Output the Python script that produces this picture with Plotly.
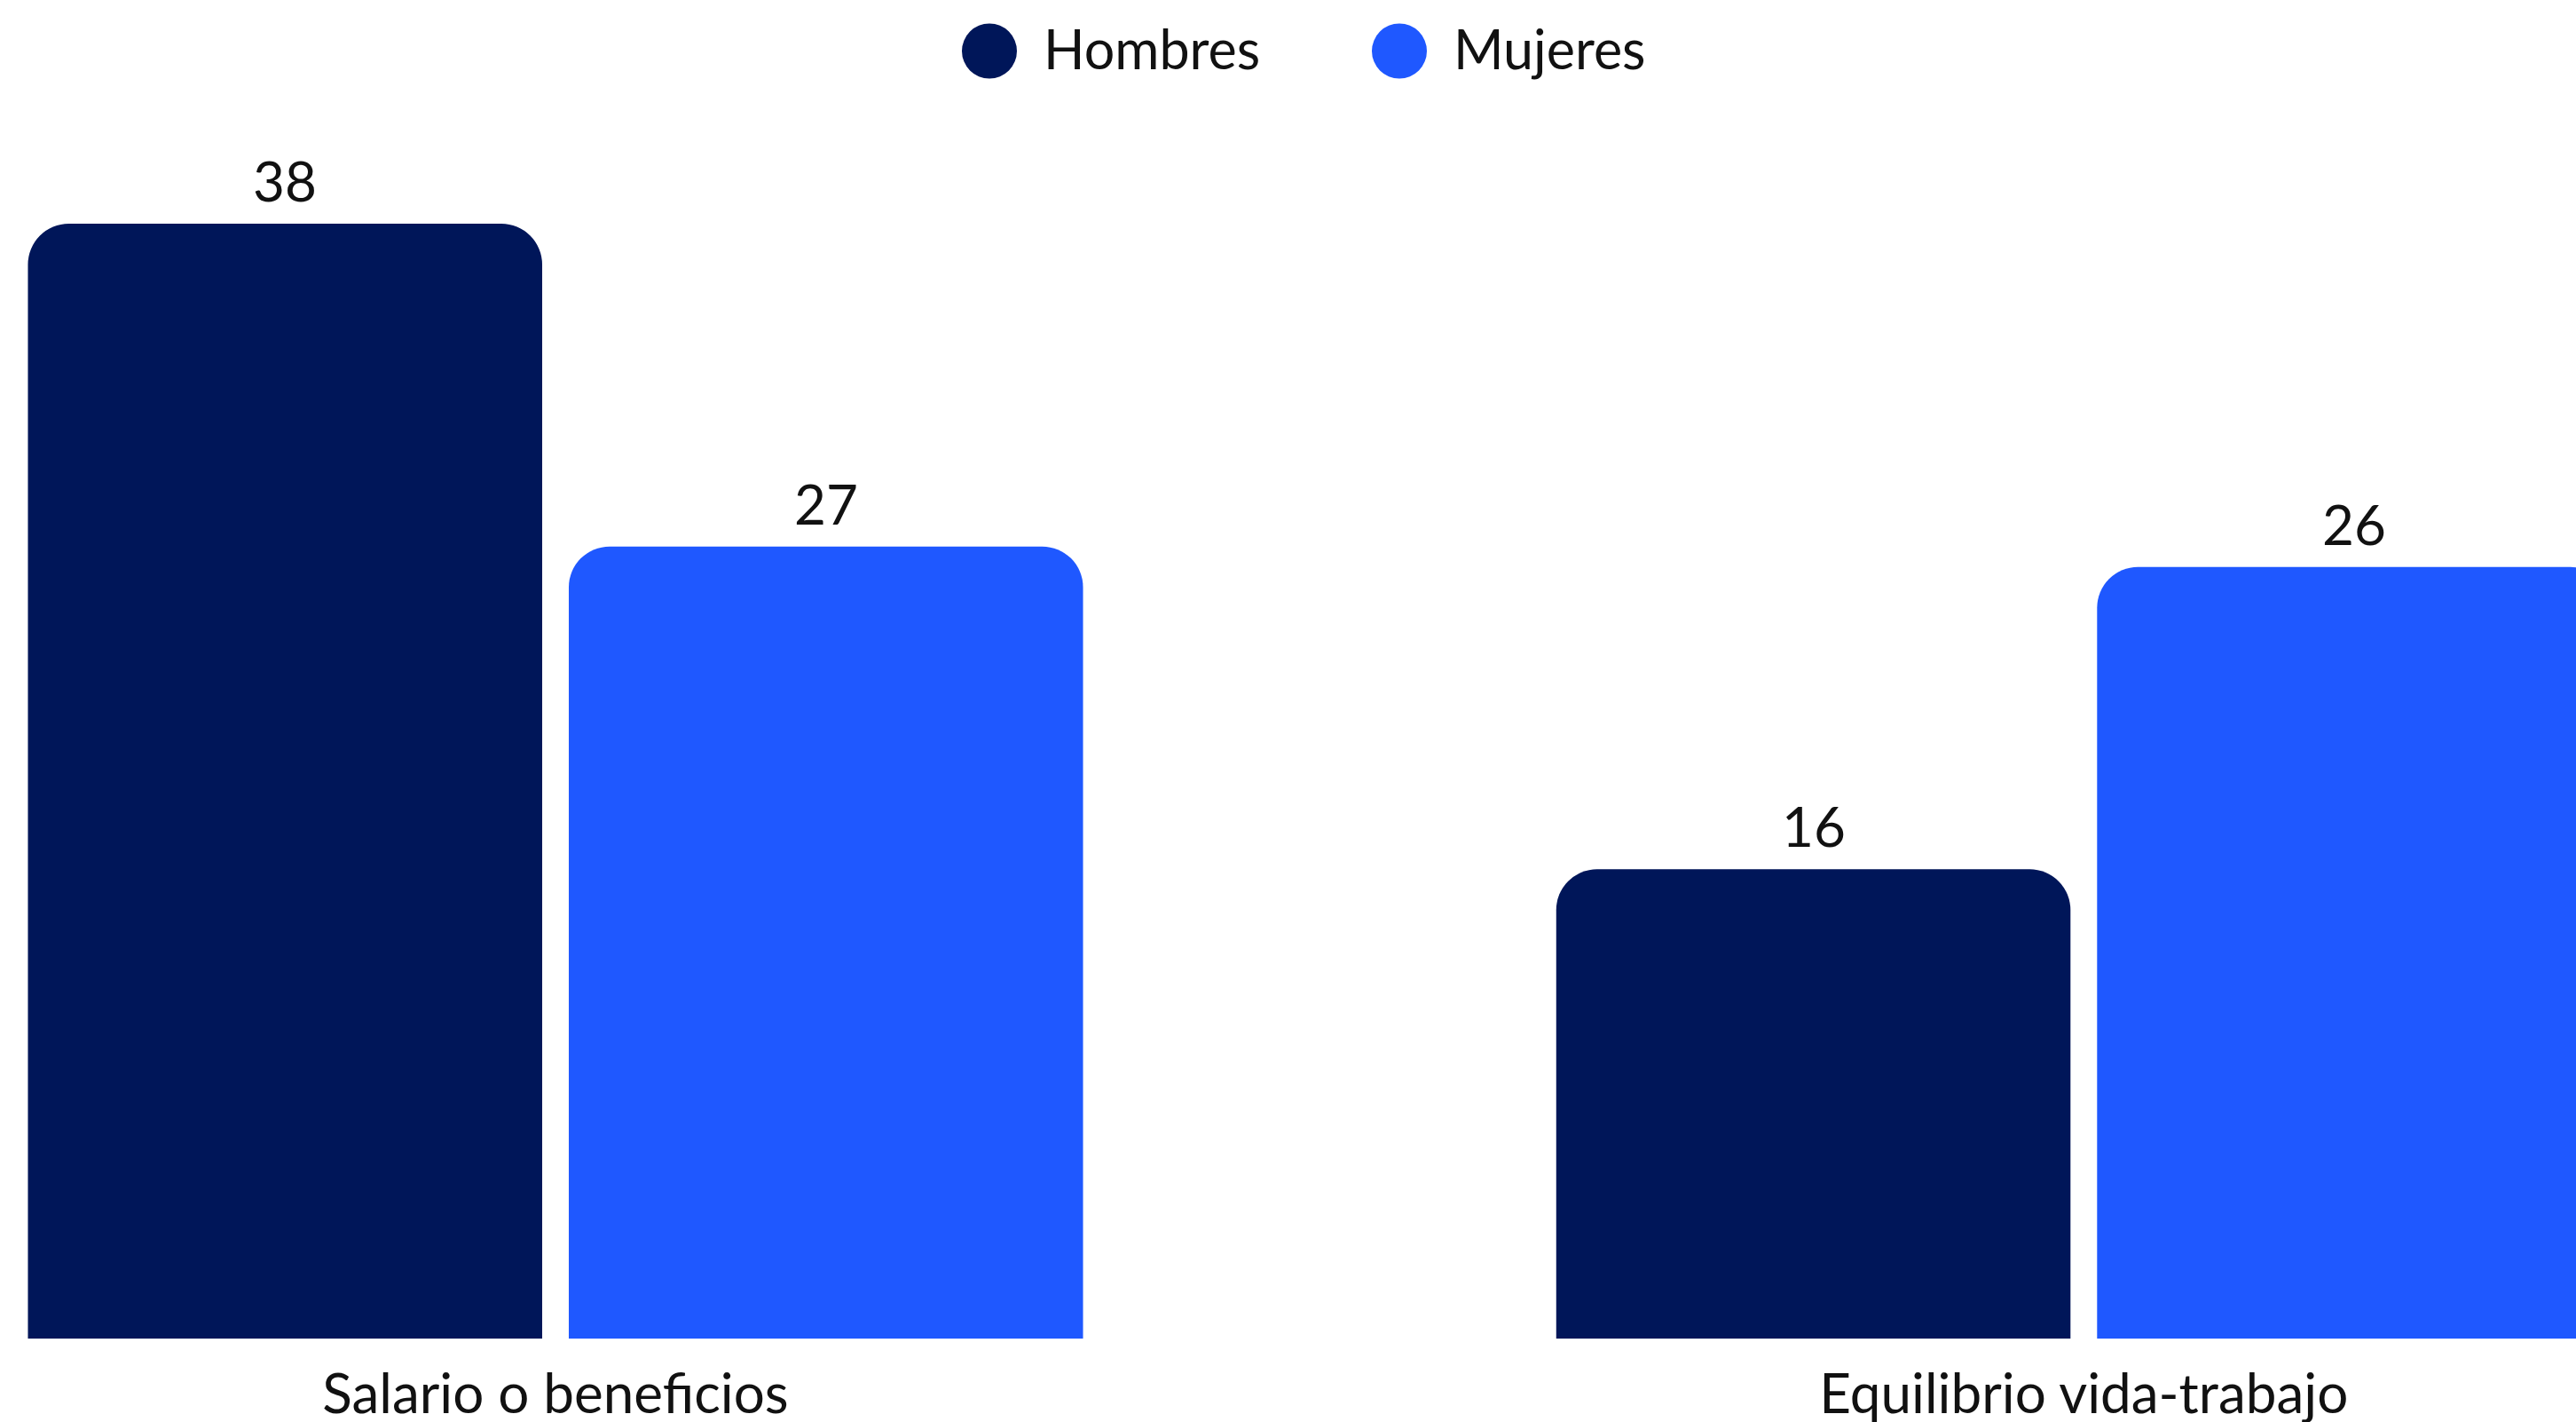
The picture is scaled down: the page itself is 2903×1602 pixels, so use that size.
import plotly.graph_objects as go

categories = ["Salario o beneficios", "Equilibrio vida-trabajo"]
series_names = ["Hombres", "Mujeres"]
hombres = [38, 16]
mujeres = [27, 26.3]
colors = ["#001659", "#1f58ff"]

W, H = 2903, 1602
M_T, M_B = 150, 94
FONT = "Lato, 'Open Sans', sans-serif"
TXT = "#111111"
FS = 62

fig = go.Figure()
for name, vals, col in zip(series_names, [hombres, mujeres], colors):
    fig.add_trace(go.Bar(
        x=categories, y=vals, name=name, marker=dict(color=col, line=dict(width=0)),
        showlegend=False, hoverinfo="x+y+name",
    ))

# value labels above bars
slot_px = 609.5
for i, vals in enumerate([hombres, mujeres]):
    shift = (-0.5 if i == 0 else 0.5) * slot_px
    for cat, v in zip(categories, vals):
        fig.add_annotation(x=cat, y=v, text=f"{v:.0f}", showarrow=False,
                           xanchor="center", yanchor="bottom", xshift=shift, yshift=10,
                           font=dict(family=FONT, size=FS, color=TXT))

# custom legend (circle markers)
plot_h = H - M_T - M_B
def py(pix):
    return (H - M_B - pix) / plot_h

legend_items = [(series_names[0], colors[0], 1115, 1174), (series_names[1], colors[1], 1577, 1636)]
for name, col, cx, tx in legend_items:
    fig.add_shape(type="circle", xref="paper", yref="paper", xsizemode="pixel", ysizemode="pixel",
                  xanchor=cx / W, yanchor=py(57.5), x0=-31, x1=31, y0=-31, y1=31,
                  fillcolor=col, line=dict(width=0))
    fig.add_annotation(xref="paper", yref="paper", x=tx / W, y=py(54), text=name, showarrow=False,
                       xanchor="left", yanchor="middle", font=dict(family=FONT, size=61, color=TXT))

cat_px = 1722.3
x0 = -626 / cat_px
fig.update_layout(
    width=W, height=H,
    margin=dict(l=0, r=0, t=M_T, b=M_B, pad=0, autoexpand=False),
    paper_bgcolor="white", plot_bgcolor="white",
    barmode="group", bargap=0.2922, bargroupgap=0.0492, barcornerradius=46,
    font=dict(family=FONT, size=FS, color=TXT),
    xaxis=dict(type="category", range=[x0, x0 + W / cat_px], showgrid=False, zeroline=False,
               showline=False, ticks="", ticklabelstandoff=21, automargin=False,
               tickfont=dict(family=FONT, size=FS, color=TXT)),
    yaxis=dict(range=[0, plot_h / 33.05], visible=False, showgrid=False, zeroline=False,
               automargin=False),
)

fig.write_html("out.html", config={"displayModeBar": False},
               post_script="document.body.style.margin='0';document.body.style.overflow='hidden';")
